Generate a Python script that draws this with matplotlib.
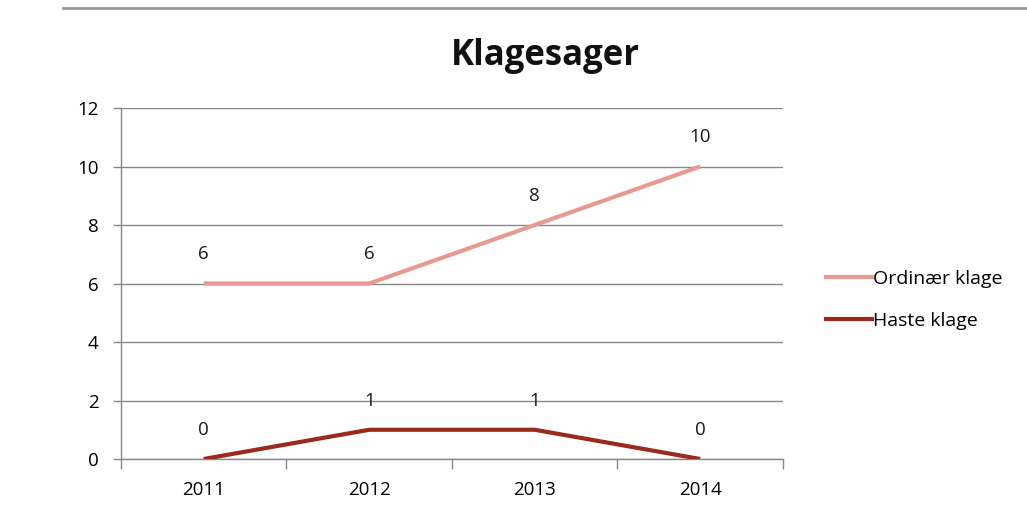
import numpy as np
import matplotlib.pyplot as plt
from matplotlib.lines import Line2D

plt.rcParams['font.family'] = ['Open Sans', 'DejaVu Sans']

years = ['2011', '2012', '2013', '2014']
ordinaer = [6, 6, 8, 10]
haste = [0, 1, 1, 0]
series_names = ['Ordinær klage', 'Haste klage']
colors = ['#E89A92', '#9B2A1E']

fig = plt.figure(figsize=(10.27, 5.19), dpi=100)
ax = fig.add_axes([0.1178, 0.1156, 0.6446, 0.6763])

x = np.arange(len(years))
for vals, c in zip([ordinaer, haste], colors):
    ax.plot(x, vals, color=c, lw=3.0, solid_capstyle='butt', zorder=3)
    for xi, v in zip(x, vals):
        ax.annotate(str(v), (xi, v), xytext=(0, 21), textcoords='offset points',
                    ha='center', va='center', fontsize=13.5, color='#1a1a1a')

ax.set_xlim(-0.5, len(years) - 0.5)
ax.set_ylim(0, 12)
ax.set_yticks(range(0, 13, 2))
ax.set_xticks(x)
ax.set_xticklabels(years)
ax.set_xticks(np.arange(-0.5, len(years), 1), minor=True)
ax.tick_params(axis='x', which='major', length=0, pad=16, labelsize=13.5)
ax.tick_params(axis='x', which='minor', length=7, color='#888888', width=1)
ax.tick_params(axis='y', length=6, color='#888888', width=1, pad=10, labelsize=13.5)
ax.grid(axis='y', color='#888888', lw=1)
ax.set_axisbelow(True)
for s in ['top', 'right']:
    ax.spines[s].set_visible(False)
for s in ['left', 'bottom']:
    ax.spines[s].set_color('#888888')
    ax.spines[s].set_linewidth(1)

fig.text(0.531, 0.893, 'Klagesager', ha='center', va='center',
         fontsize=25, fontweight='bold', color='#111111')

handles = [Line2D([0], [0], color=c, lw=3.0) for c in colors]
fig.legend(handles, series_names, loc='center left', bbox_to_anchor=(0.787, 0.422),
           frameon=False, fontsize=14, handlelength=2.4, handletextpad=0.05,
           labelspacing=1.25)

# top border line of the sheet
fig.add_artist(Line2D([0.061, 1.0], [0.984, 0.984], transform=fig.transFigure,
                      color='#999999', lw=2))

fig.savefig('out.png', dpi=100)
